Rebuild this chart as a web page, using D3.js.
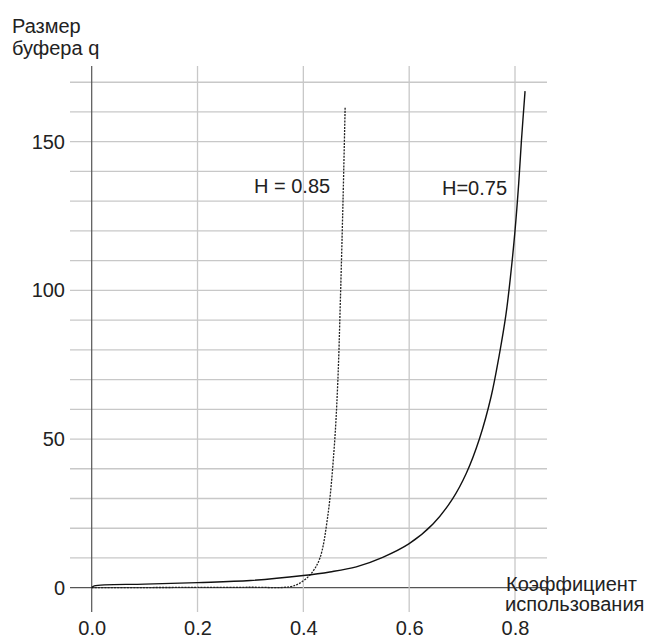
<!DOCTYPE html>
<html>
<head>
<meta charset="utf-8">
<script src="https://cdn.jsdelivr.net/npm/d3@7"></script>
<style>
   body { margin: 0; background: #fff; }
   svg { display: block; font-family: 'Liberation Sans', Arial, sans-serif; }
</style>
</head>
<body>
<div id="chart"></div>
<script>
// utilization coefficient (x) and buffer size q (y)
const h075Util = [0, 0.005, 0.1, 0.2, 0.3, 0.4, 0.45, 0.5, 0.55, 0.6, 0.645, 0.682, 0.708, 0.733, 0.755, 0.77, 0.783, 0.792, 0.8, 0.807, 0.812, 0.819];
const h075Q = [0, 0.6, 1.2, 1.7, 2.4, 4.1, 5.3, 7.0, 10.2, 14.8, 21.4, 29.9, 38.5, 50.2, 64.4, 78, 92, 105.5, 120, 136, 150, 167];

const h085Util = [0, 0.1, 0.2, 0.3, 0.374, 0.393, 0.415, 0.431, 0.446, 0.458, 0.465, 0.47, 0.475, 0.479];
const h085Q = [0, 0.05, 0.1, 0.15, 0.3, 1.5, 4.8, 9.8, 23.9, 46.3, 68.8, 96.8, 130.4, 161.8];

const xTicks = [0, 0.2, 0.4, 0.6, 0.8];
const yTicks = [0, 50, 100, 150];
const yGrid = d3.range(0, 171, 10);

const width = 656;
const height = 639;

const svg = d3
   .select('#chart')
   .append('svg')
   .attr('width', width)
   .attr('height', height);

const x = d3.scaleLinear().domain([0, 0.8]).range([91.7, 515]);
const y = d3.scaleLinear().domain([0, 150]).range([587.7, 141.7]);

const gridLeft = 70;
const gridRight = 547;
const gridTop = 66;
const gridBottom = 612;

// horizontal grid
svg.append('g')
   .selectAll('line')
   .data(yGrid)
   .join('line')
   .attr('x1', gridLeft)
   .attr('x2', gridRight)
   .attr('y1', (d) => y(d))
   .attr('y2', (d) => y(d))
   .attr('stroke', (d) => (d === 0 ? '#555' : '#c8c8c8'))
   .attr('stroke-width', (d) => (d === 0 ? 1.2 : 1.3));

// vertical grid
svg.append('g')
   .selectAll('line')
   .data(xTicks)
   .join('line')
   .attr('x1', (d) => x(d))
   .attr('x2', (d) => x(d))
   .attr('y1', gridTop)
   .attr('y2', gridBottom)
   .attr('stroke', (d) => (d === 0 ? '#555' : '#c8c8c8'))
   .attr('stroke-width', (d) => (d === 0 ? 1.2 : 1.3));

// tick labels
const yAxis = d3.axisLeft(y).tickValues(yTicks).tickSize(0).tickPadding(0).tickFormat(d3.format('d'));
svg.append('g')
   .attr('transform', 'translate(65,0)')
   .call(yAxis)
   .call((g) => g.select('.domain').remove())
   .call((g) => g.selectAll('text').attr('font-size', 20).attr('font-family', null).attr('fill', '#222'));

const xAxis = d3.axisBottom(x).tickValues(xTicks).tickSize(0).tickPadding(0).tickFormat(d3.format('.1f'));
svg.append('g')
   .attr('transform', 'translate(0,621)')
   .call(xAxis)
   .call((g) => g.select('.domain').remove())
   .call((g) => g.selectAll('text').attr('font-size', 20).attr('font-family', null).attr('fill', '#222'));

// curves
const line = d3
   .line()
   .x((d) => x(d[0]))
   .y((d) => y(d[1]))
   .curve(d3.curveCatmullRom.alpha(0.5));

svg.append('path')
   .datum(d3.zip(h085Util, h085Q))
   .attr('d', line)
   .attr('fill', 'none')
   .attr('stroke', '#222')
   .attr('stroke-width', 1.3)
   .attr('stroke-dasharray', '2,1.2');

svg.append('path')
   .datum(d3.zip(h075Util, h075Q))
   .attr('d', line)
   .attr('fill', 'none')
   .attr('stroke', '#111')
   .attr('stroke-width', 1.4);

// texts
const text = (tx, ty, s, anchor) =>
   svg.append('text')
      .attr('x', tx)
      .attr('y', ty)
      .attr('font-size', 20)
      .attr('fill', '#222')
      .attr('text-anchor', anchor || 'start')
      .text(s);

text(12, 33, 'Размер');
text(12, 55, 'буфера q');
text(506, 591, 'Коэффициент');
text(505, 611, 'использования');
text(254, 193, 'H = 0.85');
text(442, 195, 'H=0.75');
</script>
</body>
</html>
